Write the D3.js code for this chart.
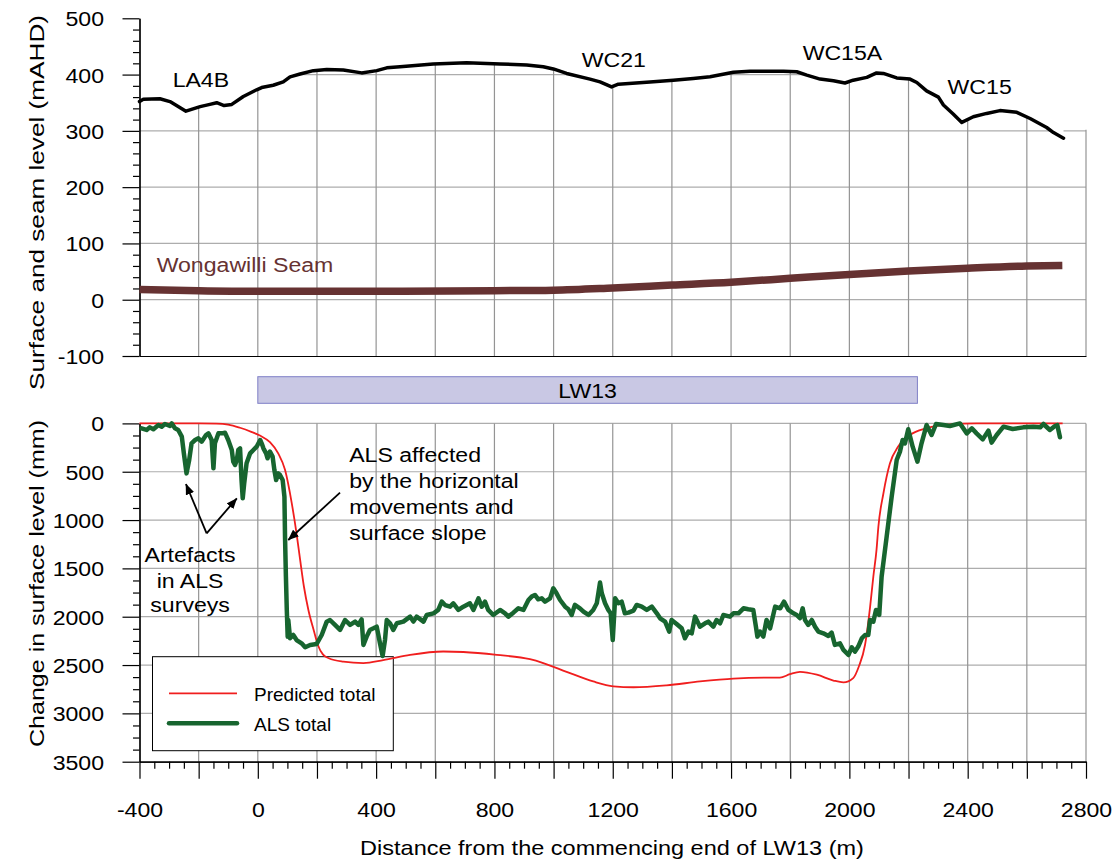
<!DOCTYPE html>
<html>
<head>
<meta charset="utf-8">
<script src="https://cdn.jsdelivr.net/npm/d3@7"></script>
<style>
  html, body { margin: 0; padding: 0; background: #fff; }
  svg text { font-family: "Liberation Sans", Arial, sans-serif; fill: #000; }
</style>
</head>
<body>
<svg id="chart" width="1120" height="861"></svg>
<script>
// ---- Surface profile along the LW13 centreline: [distance (m), level (mAHD)]
const surfaceProfile = [
  [-400,352],[-387,356],[-331,357],[-297,352],[-243,335],[-195,343],[-162,347],[-139,350],
  [-114,345],[-88,347],[-49,361],[-4,373],[13,377],[52,381],[86,387],[109,396],[143,401],
  [188,407],[233,409],[289,408],[351,403],[402,407],[436,412],[481,414],[593,419],[706,421],
  [819,419],[909,417],[965,414],[999,410],[1044,402],[1123,392],[1157,387],[1196,378],
  [1219,383],[1326,387],[1405,390],[1472,393],[1529,396],[1608,404],[1664,406],[1777,406],
  [1822,405],[1856,399],[1901,392],[1946,389],[1985,385],[2013,390],[2059,395],[2092,403],
  [2115,402],[2160,394],[2205,392],[2228,386],[2261,371],[2301,360],[2318,346],[2351,330],
  [2380,315],[2419,325],[2464,331],[2509,336],[2566,333],[2611,322],[2667,306],[2690,297],
  [2724,287]
];

// ---- Wongawilli Seam floor level: [distance (m), level (mAHD)]
const seamProfile = [
  [-400,18],[-200,16],[0,15],[400,15],[800,16],[1000,17],[1200,21],[1400,26],[1600,31],
  [1800,38],[2000,45],[2200,51],[2400,56],[2600,60],[2720,61]
];

// ---- Predicted total subsidence: [distance (m), subsidence (mm)]
const predictedTotal = [
  [-400,0],[-200,0],[-140,2],[-100,12],[-60,45],[-20,90],[7,125],[41,195],[69,310],[92,480],
  [115,830],[131,1140],[143,1410],[156,1690],[171,1930],[190,2150],[204,2300],[220,2390],
  [240,2430],[289,2465],[357,2480],[424,2450],[515,2395],[627,2360],[695,2365],[808,2395],
  [920,2440],[965,2480],[1044,2570],[1134,2670],[1202,2720],[1270,2730],[1382,2710],
  [1495,2670],[1608,2640],[1720,2630],[1765,2630],[1799,2595],[1833,2570],[1890,2600],
  [1946,2660],[1980,2680],[2013,2635],[2032,2515],[2053,2290],[2070,1900],[2081,1585],
  [2092,1300],[2098,1070],[2115,725],[2137,415],[2165,240],[2205,120],[2261,50],[2340,10],
  [2430,0],[2721,0]
];

// ---- ALS measured total subsidence: [distance (m), subsidence (mm)]
const alsTotal = [
  [-393,51],[-376,68],[-365,41],[-353,61],[-336,17],[-325,34],[-314,6],[-297,27],[-291,0],
  [-280,51],[-269,68],[-257,137],[-250,310],[-241,517],[-232,379],[-224,206],[-212,172],
  [-201,155],[-190,189],[-175,120],[-167,103],[-156,172],[-150,465],[-145,206],[-133,103],
  [-122,103],[-111,96],[-100,172],[-88,275],[-83,396],[-77,430],[-71,379],[-66,275],[-60,258],
  [-55,586],[-51,775],[-46,620],[-38,413],[-26,310],[-15,275],[-4,241],[8,172],[13,206],
  [19,258],[28,310],[33,361],[41,292],[50,344],[56,482],[62,586],[69,517],[75,534],[84,586],
  [90,758],[92,1172],[95,1585],[98,1930],[101,2206],[103,2034],[109,2223],[120,2189],
  [131,2241],[148,2275],[160,2316],[177,2292],[199,2282],[216,2189],[233,2051],[244,2034],
  [261,2085],[278,2137],[295,2034],[312,2085],[329,2051],[340,2085],[351,2027],[357,2292],
  [368,2206],[379,2137],[391,2120],[402,2103],[413,2275],[422,2406],[430,2241],[436,2034],
  [447,2068],[458,2137],[470,2068],[492,2051],[515,1999],[526,2051],[537,1999],[560,2051],
  [571,1982],[594,1965],[610,1930],[622,1844],[633,1879],[650,1896],[661,1861],[678,1930],
  [695,1896],[717,1861],[729,1930],[746,1810],[757,1896],[768,1844],[779,1930],[796,1982],
  [819,1930],[836,1965],[847,1999],[864,1958],[881,1913],[898,1930],[915,1827],[926,1792],
  [937,1775],[948,1820],[960,1810],[971,1844],[988,1810],[999,1706],[1010,1758],[1022,1827],
  [1039,1896],[1050,1923],[1061,1982],[1072,1878],[1089,1913],[1101,1947],[1118,1982],
  [1134,1930],[1146,1861],[1157,1647],[1163,1758],[1174,1861],[1185,1930],[1193,1965],
  [1200,2241],[1208,1810],[1219,1861],[1230,1844],[1241,1965],[1253,1958],[1270,1937],
  [1281,1878],[1298,1896],[1315,1930],[1332,1896],[1349,1965],[1360,2016],[1377,2051],
  [1391,2154],[1399,2034],[1416,2075],[1433,2120],[1444,2223],[1456,2154],[1467,2172],
  [1478,1999],[1495,2103],[1512,2068],[1523,2051],[1540,2103],[1551,2034],[1563,2068],
  [1574,1982],[1596,1999],[1608,1965],[1625,1965],[1642,1913],[1658,1923],[1675,1930],
  [1684,2103],[1689,2206],[1698,2154],[1709,2206],[1720,2034],[1732,2120],[1749,1896],
  [1766,1913],[1779,1844],[1794,1930],[1811,1965],[1822,1982],[1833,2016],[1842,1913],
  [1850,2034],[1861,2085],[1873,2034],[1884,2103],[1895,2154],[1912,2172],[1929,2199],
  [1940,2165],[1951,2292],[1968,2275],[1980,2344],[1997,2396],[2008,2316],[2019,2361],
  [2030,2309],[2042,2223],[2053,2189],[2064,2189],[2070,2034],[2081,2051],[2090,1930],
  [2101,1982],[2109,1585],[2126,1172],[2143,758],[2160,379],[2171,292],[2180,172],[2188,206],
  [2199,61],[2214,241],[2230,396],[2244,206],[2261,17],[2278,120],[2293,6],[2318,17],
  [2340,27],[2374,0],[2397,103],[2414,51],[2430,103],[2451,165],[2470,75],[2481,199],
  [2498,120],[2521,34],[2552,58],[2588,41],[2622,34],[2645,41],[2656,6],[2678,68],[2695,27],
  [2703,17],[2712,144]
];

// ---- Longwall panel extent (m)
const panelName = "LW13";
const panelExtent = [0, 2230];

// ---- Axis ticks
const xGridTicks = d3.range(-400, 2801, 200);
const xLabelTicks = d3.range(-400, 2801, 400);
const xMinorTicks = d3.range(-400, 2801, 50);
const topMajorTicks = d3.range(-100, 501, 100);
const topMinorTicks = d3.range(-100, 501, 20);
const botMajorTicks = d3.range(0, 3501, 500);
const botMinorTicks = d3.range(0, 3501, 125);

// ---- Feature labels on the surface profile: [text, distance, level]
const featureLabels = [
  ["LA4B", -288, 378],
  ["WC21", 1095, 414],
  ["WC15A", 1842, 426],
  ["WC15", 2332, 365]
];

const svg = d3.select("#chart");
const SX = 1.1;          // horizontal stretch used for the label lettering
const FS = 21;           // label font size

const x = d3.scaleLinear().domain([-400, 2800]).range([139.5, 1086]);
const yTop = d3.scaleLinear().domain([-100, 500]).range([356, 18.3]);
const yBot = d3.scaleLinear().domain([0, 3500]).range([423.4, 761.7]);

const GRID_V = "#949494";
const GRID_H = "#adadad";
const plain = d => String(d);   // plain integers with an ASCII hyphen for negatives

function label(g, px, py, str, opt = {}) {
  return g.append("text")
    .attr("transform", `translate(${px},${py}) scale(${opt.sx ?? SX},1)`)
    .attr("text-anchor", opt.anchor || "start")
    .style("font-size", (opt.size || FS) + "px")
    .style("fill", opt.fill || "#000")
    .text(str);
}

// Arrow head marker
svg.append("defs").append("marker")
  .attr("id", "arrow")
  .attr("viewBox", "0 0 10 8")
  .attr("refX", 9.5).attr("refY", 4)
  .attr("markerUnits", "userSpaceOnUse")
  .attr("markerWidth", 11).attr("markerHeight", 9)
  .attr("orient", "auto")
  .append("path").attr("d", "M0,0L10,4L0,8Z").attr("fill", "#000");

// ================= Upper panel: surface and seam levels =================
const upper = svg.append("g");

// grid
upper.append("g").selectAll("line").data([0, 100, 200, 300, 400]).join("line")
  .attr("x1", x(-400)).attr("x2", x(2800))
  .attr("y1", d => yTop(d)).attr("y2", d => yTop(d))
  .attr("stroke", GRID_H).attr("stroke-width", 1.2);
upper.append("g").selectAll("line").data(xGridTicks.filter(d => d > -400)).join("line")
  .attr("x1", d => x(d)).attr("x2", d => x(d))
  .attr("y1", yTop(-100)).attr("y2", yTop(500))
  .attr("stroke", GRID_V).attr("stroke-width", 1.2);

// sky above the ground line stays clear of grid
const last = surfaceProfile[surfaceProfile.length - 1];
const skyMask = surfaceProfile.concat([[last[0] + 0.1, 302], [2830, 302]]);
upper.append("path")
  .attr("d", d3.area().x(d => x(d[0])).y0(yTop(500) - 2).y1(d => yTop(d[1]))(skyMask))
  .attr("fill", "#fff");

// left axis
const topAxisMajor = d3.axisLeft(yTop).tickValues(topMajorTicks).tickSize(17).tickSizeOuter(0)
  .tickFormat(plain);
const gTopAxis = upper.append("g").attr("transform", `translate(${x(-400)},0)`).call(topAxisMajor);
gTopAxis.selectAll("text")
  .attr("x", null).attr("dy", null)
  .attr("transform", `translate(-35.5,7.5) scale(${SX},1)`)
  .style("font-size", FS + "px");
const topAxisMinor = d3.axisLeft(yTop).tickValues(topMinorTicks.filter(d => d % 100 !== 0))
  .tickSize(6.5).tickFormat("").tickSizeOuter(0);
upper.append("g").attr("transform", `translate(${x(-400)},0)`).call(topAxisMinor);
// bottom edge of the upper panel
upper.append("g").attr("transform", `translate(0,${yTop(-100)})`)
  .call(d3.axisBottom(x).tickValues([]).tickSizeOuter(0));

// seam and surface lines
upper.append("path")
  .attr("d", d3.line().x(d => x(d[0])).y(d => yTop(d[1])).curve(d3.curveMonotoneX)(seamProfile))
  .attr("fill", "none").attr("stroke", "#663232").attr("stroke-width", 7.5);
upper.append("path")
  .attr("d", d3.line().x(d => x(d[0])).y(d => yTop(d[1]))(surfaceProfile))
  .attr("fill", "none").attr("stroke", "#000").attr("stroke-width", 3.5)
  .attr("stroke-linejoin", "round").attr("stroke-linecap", "round");

featureLabels.forEach(([t, d, v]) => label(upper, x(d), yTop(v), t));
label(upper, x(-342), yTop(50), "Wongawilli Seam", { fill: "#663232" });

// title (rotated)
svg.append("text")
  .attr("transform", "translate(44,390) rotate(-90)")
  .attr("textLength", 375).attr("lengthAdjust", "spacingAndGlyphs")
  .style("font-size", "19.5px")
  .text("Surface and seam level (mAHD)");

// ================= Panel extent bar =================
svg.append("rect")
  .attr("x", x(panelExtent[0])).attr("width", x(panelExtent[1]) - x(panelExtent[0]))
  .attr("y", 376.7).attr("height", 26.6)
  .attr("fill", "#c9c8e4").attr("stroke", "#7f7fc6").attr("stroke-width", 1);
label(svg, (x(panelExtent[0]) + x(panelExtent[1])) / 2, 397.5, panelName, { anchor: "middle" });

// ================= Lower panel: change in surface level =================
const lower = svg.append("g");

lower.append("g").selectAll("line").data(botMajorTicks.filter(d => d < 3500)).join("line")
  .attr("x1", x(-400)).attr("x2", x(2800))
  .attr("y1", d => yBot(d)).attr("y2", d => yBot(d))
  .attr("stroke", GRID_H).attr("stroke-width", 1.2);
lower.append("g").selectAll("line").data(xGridTicks.filter(d => d > -400)).join("line")
  .attr("x1", d => x(d)).attr("x2", d => x(d))
  .attr("y1", yBot(0)).attr("y2", yBot(3500))
  .attr("stroke", GRID_V).attr("stroke-width", 1.2);

// legend frame (lines run over it)
lower.append("rect")
  .attr("x", 152.5).attr("y", 656.7).attr("width", 240.8).attr("height", 94)
  .attr("fill", "#fff").attr("stroke", "#000").attr("stroke-width", 1);

// left axis
const botAxisMajor = d3.axisLeft(yBot).tickValues(botMajorTicks).tickSize(17).tickSizeOuter(0)
  .tickFormat(plain);
const gBotAxis = lower.append("g").attr("transform", `translate(${x(-400)},0)`).call(botAxisMajor);
gBotAxis.selectAll("text")
  .attr("x", null).attr("dy", null)
  .attr("transform", `translate(-35.5,7.5) scale(${SX},1)`)
  .style("font-size", FS + "px");
lower.append("g").attr("transform", `translate(${x(-400)},0)`)
  .call(d3.axisLeft(yBot).tickValues(botMinorTicks.filter(d => d % 500 !== 0))
    .tickSize(6.5).tickFormat("").tickSizeOuter(0));

// bottom axis
const xAxisMajor = d3.axisBottom(x).tickValues(xGridTicks).tickSize(17).tickSizeOuter(0)
  .tickFormat(d => (xLabelTicks.includes(d) ? plain(d) : ""));
const gX = lower.append("g").attr("transform", `translate(0,${yBot(3500)})`).call(xAxisMajor);
gX.selectAll("text")
  .attr("y", null).attr("dy", null)
  .attr("transform", `translate(0,55.5) scale(${SX},1)`)
  .style("font-size", FS + "px");
lower.append("g").attr("transform", `translate(0,${yBot(3500)})`)
  .call(d3.axisBottom(x).tickValues(xMinorTicks.filter(d => d % 200 !== 0))
    .tickSize(7).tickFormat("").tickSizeOuter(0));

svg.selectAll(".domain").attr("stroke", "#000").attr("stroke-width", 1.2);
svg.selectAll(".tick line").attr("stroke", "#000").attr("stroke-width", 1.2);

// data lines
lower.append("path")
  .attr("d", d3.line().x(d => x(d[0])).y(d => yBot(d[1])).curve(d3.curveMonotoneX)(predictedTotal))
  .attr("fill", "none").attr("stroke", "#f01e1e").attr("stroke-width", 1.8);
lower.append("path")
  .attr("d", d3.line().x(d => x(d[0])).y(d => yBot(d[1]))(alsTotal))
  .attr("fill", "none").attr("stroke", "#17652f").attr("stroke-width", 4.5)
  .attr("stroke-linejoin", "round").attr("stroke-linecap", "round");

// legend entries
const legend = lower.append("g");
legend.append("line").attr("x1", 169).attr("x2", 237).attr("y1", 693.3).attr("y2", 693.3)
  .attr("stroke", "#f01e1e").attr("stroke-width", 1.8);
legend.append("line").attr("x1", 169).attr("x2", 237).attr("y1", 723.3).attr("y2", 723.3)
  .attr("stroke", "#17652f").attr("stroke-width", 4.5).attr("stroke-linecap", "round");
label(legend, 254, 700.5, "Predicted total", { size: 19, sx: 1.0 });
label(legend, 254, 730.5, "ALS total", { size: 19, sx: 1.0 });

// annotations
const artefactLines = ["Artefacts", "in ALS", "surveys"];
const artefactBase = [1431, 1698, 1951];
artefactLines.forEach((t, i) => label(lower, x(-229), yBot(artefactBase[i]), t, { anchor: "middle" }));
const slopeLines = ["ALS affected", "by the horizontal", "movements and", "surface slope"];
const slopeBase = [399, 668, 937, 1206];
slopeLines.forEach((t, i) => label(lower, x(309), yBot(slopeBase[i]), t));

const arrows = [
  [[-173, 1137], [-243, 627]],
  [[-173, 1137], [-71, 775]],
  [[278, 717], [103, 1206]]
];
lower.append("g").selectAll("line").data(arrows).join("line")
  .attr("x1", d => x(d[0][0])).attr("y1", d => yBot(d[0][1]))
  .attr("x2", d => x(d[1][0])).attr("y2", d => yBot(d[1][1]))
  .attr("stroke", "#000").attr("stroke-width", 1.8)
  .attr("marker-end", "url(#arrow)");

svg.append("text")
  .attr("transform", "translate(44,747) rotate(-90)")
  .attr("textLength", 327).attr("lengthAdjust", "spacingAndGlyphs")
  .style("font-size", "19.5px")
  .text("Change in surface level (mm)");

label(svg, 612, 855, "Distance from the commencing end of LW13 (m)", { anchor: "middle", sx: 1.12 });
</script>
</body>
</html>
